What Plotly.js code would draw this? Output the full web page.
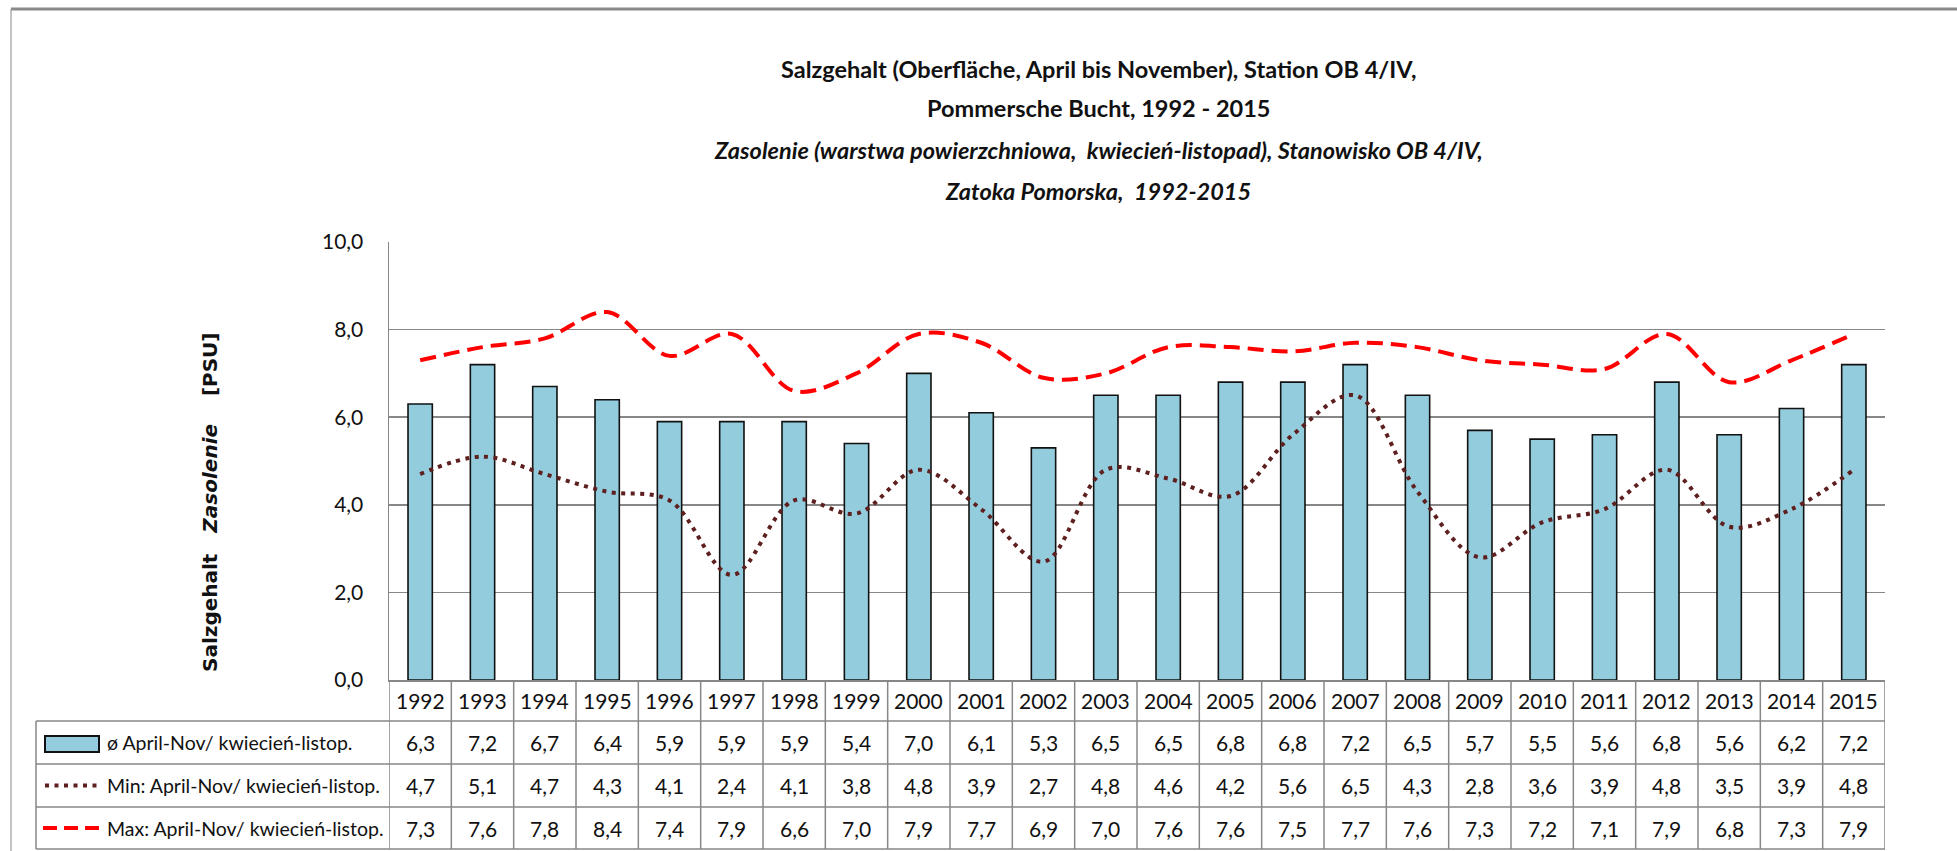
<!DOCTYPE html>
<html>
<head>
<meta charset="utf-8">
<script src="https://cdn.plot.ly/plotly-3.0.1.min.js"></script>
<style>html,body{margin:0;padding:0;background:#fff;}#chart{width:1957px;height:851px;}</style>
</head>
<body>
<div id="chart"></div>
<script>
// ---- data ----
const years = ['1992','1993','1994','1995','1996','1997','1998','1999','2000','2001','2002','2003','2004','2005','2006','2007','2008','2009','2010','2011','2012','2013','2014','2015'];
const avgVals = [6.3,7.2,6.7,6.4,5.9,5.9,5.9,5.4,7.0,6.1,5.3,6.5,6.5,6.8,6.8,7.2,6.5,5.7,5.5,5.6,6.8,5.6,6.2,7.2];
const minVals = [4.7,5.1,4.7,4.3,4.1,2.4,4.1,3.8,4.8,3.9,2.7,4.8,4.6,4.2,5.6,6.5,4.3,2.8,3.6,3.9,4.8,3.5,3.9,4.8];
const maxVals = [7.3,7.6,7.8,8.4,7.4,7.9,6.6,7.0,7.9,7.7,6.9,7.0,7.6,7.6,7.5,7.7,7.6,7.3,7.2,7.1,7.9,6.8,7.3,7.9];
const seriesNames = ['ø April-Nov/ kwiecień-listop.', 'Min: April-Nov/ kwiecień-listop.', 'Max: April-Nov/ kwiecień-listop.'];
const yTicks = [0,2,4,6,8,10];
const titleLines = [
  '<b>Salzgehalt (Oberfläche, April bis November), Station OB 4/IV,</b>',
  '<b>Pommersche Bucht, 1992 - 2015</b>',
  '<b><i>Zasolenie (warstwa powierzchniowa,&nbsp; kwiecień-listopad), Stanowisko OB 4/IV,</i></b>',
  '<b><i>Zatoka Pomorska,&nbsp; 1992-2015</i></b>'
];
const yTitle = '<b>Salzgehalt&nbsp;&nbsp; <i>Zasolenie</i>&nbsp;&nbsp;&nbsp; [PSU]</b>';

// ---- layout geometry (pixels) ----
const W = 1957, H = 851;
const L = 389, R = 1885, T = 242, B = 680;
const xp = px => (px - L) / (R - L);
const yp = py => (B - py) / (B - T);
const FONT = 'Lato, "Open Sans", sans-serif';
const GRID = '#878787';
const BAR = '#93CDDD';
const MINC = '#5e1f1f';
const MAXC = '#ff0000';
const fmt = v => v.toFixed(1).replace('.', ',');

const rowTop = [680, 721, 764, 807];
const rowBot = 849;
const legLeft = 36;

const traces = [
  {type:'bar', x: years, y: avgVals, name: seriesNames[0], width: 0.39,
   marker:{color: BAR, line:{color:'#111', width:1.6}}, hoverinfo:'skip'},
  {type:'scatter', mode:'lines', x: years, y: minVals, name: seriesNames[1],
   line:{color: MINC, width:4, dash:'4px,5.5px', shape:'spline', smoothing:1}, hoverinfo:'skip'},
  {type:'scatter', mode:'lines', x: years, y: maxVals, name: seriesNames[2],
   line:{color: MAXC, width:4, dash:'16px,8px', shape:'spline', smoothing:1}, hoverinfo:'skip'}
];

const shapes = [];
const annotations = [];
const tblLine = {color: GRID, width: 1.5};

// frame
shapes.push({type:'line', xref:'paper', yref:'paper', x0: xp(11), x1: xp(W), y0: yp(9), y1: yp(9), line:{color:'#8a8a8a', width:3}});
shapes.push({type:'line', xref:'paper', yref:'paper', x0: xp(11), x1: xp(11), y0: yp(9), y1: yp(H), line:{color:'#9a9a9a', width:1.2}});

// table horizontal lines
[rowTop[1], rowTop[2], rowTop[3], rowBot].forEach(py => {
  shapes.push({type:'line', xref:'paper', yref:'paper', x0: xp(legLeft), x1: 1, y0: yp(py), y1: yp(py), line: tblLine});
});
// table verticals: category boundaries
for (let k = 0; k <= years.length; k++) {
  shapes.push({type:'line', xref:'x', yref:'paper', x0: k - 0.5, x1: k - 0.5, y0: 0, y1: yp(rowBot), line: tblLine});
}
shapes.push({type:'line', xref:'paper', yref:'paper', x0: xp(legLeft), x1: xp(legLeft), y0: yp(rowTop[1]), y1: yp(rowBot), line: tblLine});

// table values (category index positions on the x axis)
const rowsVals = [avgVals, minVals, maxVals];
const rowCenter = i => (rowTop[i] + (i < 3 ? rowTop[i+1] : rowBot)) / 2;
const TFONT = {family:FONT, size:21, color:'#111'};
years.forEach((yr, j) => {
  annotations.push({xref:'x', yref:'paper', x: j, y: yp(rowCenter(0)), text: yr, showarrow:false,
    xanchor:'center', yanchor:'middle', font: TFONT});
  rowsVals.forEach((arr, i) => {
    annotations.push({xref:'x', yref:'paper', x: j, y: yp(rowCenter(i+1)), text: fmt(arr[j]), showarrow:false,
      xanchor:'center', yanchor:'middle', font: TFONT});
  });
});

// legend keys in table
seriesNames.forEach((nm, i) => {
  annotations.push({xref:'paper', yref:'paper', x: xp(105), y: yp(rowCenter(i+1)), text: nm, showarrow:false,
    xanchor:'left', yanchor:'middle', font:{family:FONT, size:19.5, color:'#111'}});
});
shapes.push({type:'rect', xref:'paper', yref:'paper', x0: xp(45), x1: xp(99), y0: yp(752), y1: yp(736),
  fillcolor: BAR, line:{color:'#111', width:2}});
shapes.push({type:'line', xref:'paper', yref:'paper', x0: xp(45), x1: xp(101), y0: yp(rowCenter(2)), y1: yp(rowCenter(2)),
  line:{color: MINC, width:4, dash:'4px,5.5px'}});
shapes.push({type:'line', xref:'paper', yref:'paper', x0: xp(43), x1: xp(101), y0: yp(rowCenter(3)), y1: yp(rowCenter(3)),
  line:{color: MAXC, width:4, dash:'14px,7px'}});

// titles
const titleY = [69, 108, 150, 191];
titleLines.forEach((t, i) => {
  annotations.push({xref:'paper', yref:'paper', x: xp(1098), y: yp(titleY[i]), text: t, showarrow:false,
    xanchor:'center', yanchor:'middle', font:{family:FONT, size:23.5, color:'#111'}});
});
// y title
annotations.push({xref:'paper', yref:'paper', x: xp(210), y: yp(502), text: yTitle, showarrow:false, textangle:-90,
  xanchor:'center', yanchor:'middle', font:{family:'"DejaVu Sans", Verdana, sans-serif', size:20, color:'#111'}});

const layout = {
  width: W, height: H,
  margin:{l: L, r: W - R, t: T, b: H - B, pad:0},
  paper_bgcolor:'#fff', plot_bgcolor:'#fff',
  separators:',.',
  showlegend:false,
  bargap: 0.6,
  xaxis:{type:'category', range:[-0.5, years.length - 0.5], showticklabels:false, ticks:'',
    showgrid:false, showline:true, linecolor: GRID, linewidth:1.5, zeroline:false, fixedrange:true},
  yaxis:{range:[0,10], tickvals: yTicks, tickformat:'.1f', showgrid:true, gridcolor: GRID, gridwidth:1.5,
    showline:true, linecolor: GRID, linewidth:1.5, zeroline:false, ticks:'', ticklabelstandoff: 20,
    tickfont:{family:FONT, size:21, color:'#111'}, fixedrange:true},
  shapes: shapes,
  annotations: annotations
};

Plotly.newPlot('chart', traces, layout, {staticPlot:true, displayModeBar:false});
</script>
</body>
</html>
